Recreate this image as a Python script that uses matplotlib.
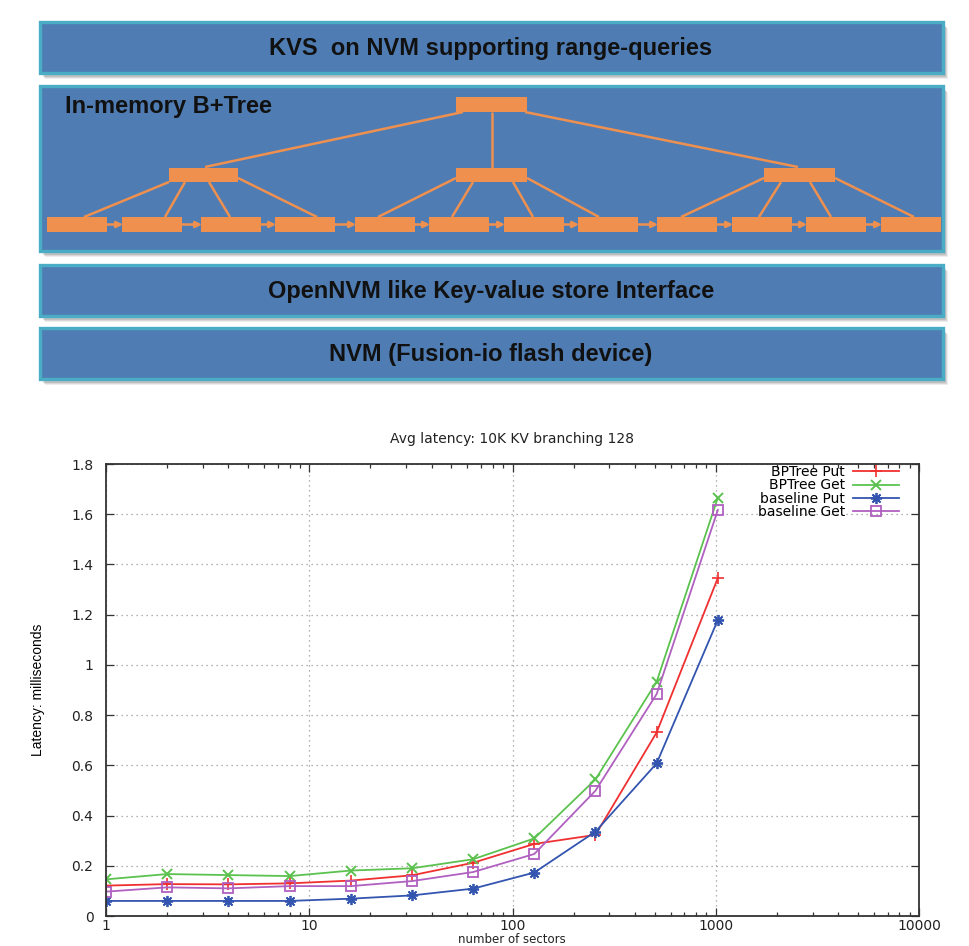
import matplotlib
matplotlib.use('Agg')
import matplotlib.pyplot as plt
from matplotlib.patches import Rectangle, FancyArrowPatch

# 图表数据
sectors = [1, 2, 4, 8, 16, 32, 64, 128, 256, 512, 1024]
bptree_put = [0.121, 0.127, 0.126, 0.130, 0.141, 0.162, 0.212, 0.287, 0.323, 0.731, 1.346]
bptree_get = [0.146, 0.167, 0.163, 0.159, 0.181, 0.190, 0.226, 0.309, 0.544, 0.933, 1.666]
baseline_put = [0.060, 0.060, 0.060, 0.060, 0.069, 0.082, 0.109, 0.173, 0.336, 0.608, 1.179]
baseline_get = [0.097, 0.114, 0.110, 0.119, 0.119, 0.139, 0.175, 0.247, 0.499, 0.884, 1.617]
series_names = ['BPTree Put', 'BPTree Get', 'baseline Put', 'baseline Get']
y_ticks = [0, 0.2, 0.4, 0.6, 0.8, 1, 1.2, 1.4, 1.6, 1.8]
y_tick_labels = ['0', '0.2', '0.4', '0.6', '0.8', '1', '1.2', '1.4', '1.6', '1.8']
x_ticks = [1, 10, 100, 1000, 10000]
x_tick_labels = ['1', '10', '100', '1000', '10000']

# 上方示意图的文字
layer_titles = ['KVS  on NVM supporting range-queries', 'OpenNVM like Key-value store Interface',
                'NVM (Fusion-io flash device)']
tree_title = 'In-memory B+Tree'

W, H = 969, 946
fig = plt.figure(figsize=(W / 100, H / 100), dpi=100)

# ---------- 示意图 (像素坐标) ----------
ax0 = fig.add_axes([0, 0, 1, 1])
ax0.set_xlim(0, W)
ax0.set_ylim(H, 0)
ax0.axis('off')

box_fill = '#4f7db3'
box_edge = '#4bacc6'
orange = '#f0904f'
diag_font = ['Liberation Sans', 'DejaVu Sans']


def layer_box(y0, y1):
    # 阴影
    for i, a in enumerate([0.10, 0.14, 0.18]):
        d = 3 - i
        ax0.add_patch(Rectangle((40 + 2 + d, y0 + 3 + d), 903, y1 - y0, facecolor='#555555',
                                edgecolor='none', alpha=a, zorder=1))
    ax0.add_patch(Rectangle((40, y0), 903, y1 - y0, facecolor=box_fill, edgecolor=box_edge,
                            linewidth=2.4, zorder=2))


boxes = [(22, 73), (86, 251), (265, 316), (328, 379)]
for y0, y1 in boxes:
    layer_box(y0, y1)

for (y0, y1), txt in zip([boxes[0], boxes[2], boxes[3]], layer_titles):
    ax0.text(491, (y0 + y1) / 2 + 1, txt, ha='center', va='center', fontsize=17,
             fontweight='bold', color='#111111', family=diag_font, zorder=5)
ax0.text(65, 106, tree_title, ha='left', va='center', fontsize=17, fontweight='bold',
         color='#111111', family=diag_font, zorder=5)

# B+树节点
root = (456, 97, 71, 15)
mids = [(169, 168, 69, 14), (456, 168, 71, 14), (764, 168, 71, 14)]
leaf_x = [47, 122, 201, 275, 355, 429, 504, 578, 657, 732, 806, 881]
leaf_w = 60
leaf_y, leaf_h = 217, 15

# 连线
tree_lines = [
    ((463, 112), (205, 167)), ((492, 112), (492, 168)), ((525, 112), (798, 167)),
    ((169, 182), (84, 217)), ((185, 182), (165, 217)), ((209, 182), (230, 217)), ((238, 178), (317, 217)),
    ((456, 178), (378, 217)), ((473, 182), (452, 217)), ((513, 182), (533, 217)), ((527, 178), (599, 217)),
    ((764, 178), (681, 217)), ((781, 182), (759, 217)), ((810, 182), (831, 217)), ((835, 178), (914, 217)),
]
for (xa, ya), (xb, yb) in tree_lines:
    ax0.plot([xa, xb], [ya, yb], color=orange, linewidth=1.8, zorder=3, solid_capstyle='butt')

for x, y, w, h in [root] + mids:
    ax0.add_patch(Rectangle((x, y), w, h, facecolor=orange, edgecolor='none', zorder=4))
for x in leaf_x:
    ax0.add_patch(Rectangle((x, leaf_y), leaf_w, leaf_h, facecolor=orange, edgecolor='none', zorder=4))
for xa, xb in zip(leaf_x[:-1], leaf_x[1:]):
    ax0.add_patch(FancyArrowPatch((xa + leaf_w - 1, leaf_y + leaf_h / 2), (xb + 1, leaf_y + leaf_h / 2),
                                  arrowstyle='-|>', mutation_scale=9, color=orange, linewidth=1.8,
                                  shrinkA=0, shrinkB=0, zorder=4))

# ---------- 折线图 ----------
left, right, top, bottom = 106, 919, 464, 916
ax = fig.add_axes([left / W, 1 - bottom / H, (right - left) / W, (bottom - top) / H])

styles = [
    dict(color='#f03030', marker='+', markersize=9, markeredgewidth=1.2),
    dict(color='#5cc24f', marker='x', markersize=7, markeredgewidth=1.4),
    dict(color='#3355b0', marker=(8, 2, 0), markersize=8, markeredgewidth=1.3),
    dict(color='#b060c0', marker='s', markersize=7, markerfacecolor='none', markeredgewidth=1.3),
]
for vals, name, st in zip([bptree_put, bptree_get, baseline_put, baseline_get], series_names, styles):
    ax.plot(sectors, vals, label=name, linewidth=1.3, **st)

ax.set_xscale('log')
ax.set_xlim(1, 10000)
ax.set_ylim(0, 1.8)
ax.set_xticks(x_ticks)
ax.set_xticklabels(x_tick_labels)
ax.set_yticks(y_ticks)
ax.set_yticklabels(y_tick_labels)
ax.tick_params(which='both', direction='in', top=True, right=True, color='#333333', width=0.9,
               labelsize=10, labelcolor='#222222')
ax.tick_params(which='major', length=6)
ax.tick_params(which='minor', length=3)
ax.tick_params(axis='y', pad=9)
ax.tick_params(axis='x', pad=2)
for sp in ax.spines.values():
    sp.set_color('#333333')
    sp.set_linewidth(1.3)
ax.grid(which='major', linestyle=(0, (1, 3)), color='#999999', linewidth=0.9)

ax.set_title('Avg latency: 10K KV branching 128', fontsize=10, color='#222222', pad=15)
ax.set_ylabel('Latency: milliseconds', fontsize=10, family='Liberation Sans', labelpad=19)
fig.text(512 / W, 1 - 946 / H, 'number of sectors', ha='center', va='bottom', fontsize=8.5,
         color='#222222')

ax.legend(loc='upper right', bbox_to_anchor=(0.986, 1.016), frameon=False, markerfirst=False,
          fontsize=10, labelspacing=-0.05, handlelength=3.3, handletextpad=0.6, borderpad=0.1)

fig.savefig('out.png', dpi=100)
